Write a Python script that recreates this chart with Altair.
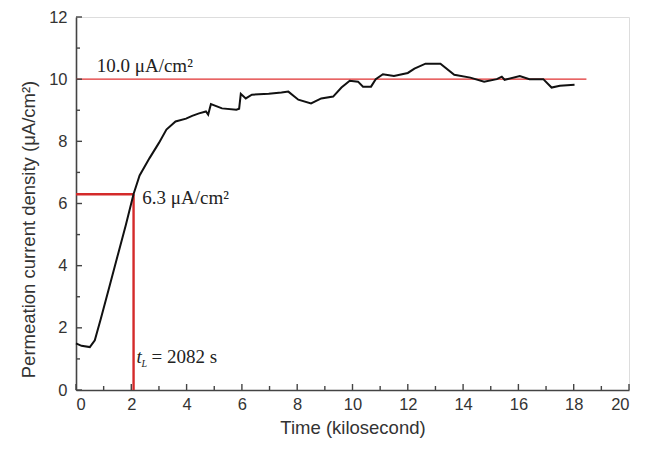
import altair as alt
import pandas as pd

# curve data (time in kiloseconds, current density in uA/cm^2)
time_ks = [0, 0.2, 0.5, 0.68, 0.9, 1.2, 1.5, 1.8, 2.08, 2.3, 2.66, 3.0, 3.27, 3.6, 3.98, 4.2,
           4.45, 4.7, 4.78, 4.88, 5.28, 5.8, 5.9, 5.96, 6.14, 6.36, 6.97, 7.43, 7.68, 8.04, 8.5,
           8.87, 9.3, 9.6, 9.9, 10.2, 10.38, 10.67, 10.84, 11.1, 11.5, 12.0, 12.24, 12.64, 13.18,
           13.68, 14.26, 14.76, 15.22, 15.4, 15.5, 16.05, 16.4, 16.9, 17.2, 17.5, 18.03]
current = [1.5, 1.42, 1.38, 1.6, 2.3, 3.3, 4.3, 5.3, 6.3, 6.9, 7.46, 7.95, 8.38, 8.64, 8.73, 8.82,
           8.9, 8.96, 8.86, 9.2, 9.06, 9.02, 9.05, 9.53, 9.38, 9.5, 9.53, 9.57, 9.6, 9.34, 9.22,
           9.38, 9.44, 9.73, 9.95, 9.92, 9.76, 9.76, 10.0, 10.16, 10.1, 10.2, 10.34, 10.5, 10.5,
           10.14, 10.05, 9.92, 10.0, 10.08, 9.98, 10.1, 10.0, 10.0, 9.73, 9.79, 9.82]

steady_value = 10.0
steady_end = 18.46
lag_time = 2.082
lag_value = 6.3

x_major = [0, 2, 4, 6, 8, 10, 12, 14, 16, 18, 20]
x_minor = [1, 3, 5, 7, 9, 11, 13, 15, 17, 19]
y_major = [0, 2, 4, 6, 8, 10, 12]
y_minor = [1, 3, 5, 7, 9, 11]

W, H = 553, 373
xs = alt.Scale(domain=[0, 20], nice=False, zero=False)
ys = alt.Scale(domain=[0, 12], nice=False, zero=False)

curve_df = pd.DataFrame({"t": time_ks, "j": current})

base = alt.Chart(curve_df).mark_line(color="#111111", strokeWidth=2).encode(
    x=alt.X("t:Q", scale=xs,
            axis=alt.Axis(values=x_major, ticks=False, grid=False, domainColor="#444444",
                          domainWidth=1.6, labelFont="Liberation Sans", labelFontSize=16.5,
                          labelColor="#333333", labelPadding=6,
                          title="Time (kilosecond)", titleFont="Liberation Sans",
                          titleFontSize=18.5, titleFontWeight="normal", titleColor="#333333",
                          titlePadding=6)),
    y=alt.Y("j:Q", scale=ys,
            axis=alt.Axis(values=y_major, ticks=False, grid=False, domainColor="#444444",
                          domainWidth=1.6, labelFont="Liberation Sans", labelFontSize=16.5,
                          labelColor="#333333", labelPadding=9,
                          title="Permeation current density (μA/cm²)",
                          titleFont="Liberation Sans", titleFontSize=18.5,
                          titleFontWeight="normal", titleColor="#333333", titlePadding=10,
                          titleY=212)),
)

# horizontal steady-state line
steady_df = pd.DataFrame({"x0": [0], "x1": [steady_end], "y": [steady_value]})
steady = alt.Chart(steady_df).mark_rule(color="#e03030", strokeWidth=1.3).encode(
    x=alt.X("x0:Q", scale=xs), x2="x1:Q", y=alt.Y("y:Q", scale=ys))

# lag-time construction lines
lagh_df = pd.DataFrame({"x0": [0], "x1": [lag_time], "y": [lag_value]})
lagh = alt.Chart(lagh_df).mark_rule(color="#d42a2a", strokeWidth=2.4).encode(
    x=alt.X("x0:Q", scale=xs), x2="x1:Q", y=alt.Y("y:Q", scale=ys))
lagv_df = pd.DataFrame({"x": [lag_time], "y0": [0], "y1": [lag_value]})
lagv = alt.Chart(lagv_df).mark_rule(color="#d42a2a", strokeWidth=2.4).encode(
    x=alt.X("x:Q", scale=xs), y=alt.Y("y0:Q", scale=ys), y2="y1:Q")

# inward ticks
xmaj = alt.Chart(pd.DataFrame({"v": x_major})).mark_rule(color="#444444", strokeWidth=1.4).encode(
    x=alt.X("v:Q", scale=xs), y=alt.value(H), y2=alt.value(H - 6))
xmin = alt.Chart(pd.DataFrame({"v": x_minor})).mark_rule(color="#444444", strokeWidth=1.4).encode(
    x=alt.X("v:Q", scale=xs), y=alt.value(H), y2=alt.value(H - 4))
ymaj = alt.Chart(pd.DataFrame({"v": y_major})).mark_rule(color="#444444", strokeWidth=1.4).encode(
    y=alt.Y("v:Q", scale=ys), x=alt.value(0), x2=alt.value(6))
ymin = alt.Chart(pd.DataFrame({"v": y_minor})).mark_rule(color="#444444", strokeWidth=1.4).encode(
    y=alt.Y("v:Q", scale=ys), x=alt.value(0), x2=alt.value(4))

# annotations
serif = "Liberation Serif"
ann_df = pd.DataFrame({"x": [0.75, 2.4], "y": [10.24, 6.0],
                       "label": ["10.0 μA/cm²", "6.3 μA/cm²"]})
ann = alt.Chart(ann_df).mark_text(font=serif, fontSize=19, align="left",
                                  baseline="alphabetic", color="#222222").encode(
    x=alt.X("x:Q", scale=xs), y=alt.Y("y:Q", scale=ys), text="label:N")

tl_df = pd.DataFrame({"x": [2.19], "y": [0.86]})
t_main = alt.Chart(tl_df).mark_text(font=serif, fontSize=19, fontStyle="italic", align="left",
                                    baseline="alphabetic", color="#222222", text="t").encode(
    x=alt.X("x:Q", scale=xs), y=alt.Y("y:Q", scale=ys))
t_sub = alt.Chart(tl_df).mark_text(font=serif, fontSize=10, fontStyle="italic", align="left",
                                   baseline="alphabetic", color="#222222", text="L",
                                   dx=5, dy=4).encode(
    x=alt.X("x:Q", scale=xs), y=alt.Y("y:Q", scale=ys))
t_rest = alt.Chart(tl_df).mark_text(font=serif, fontSize=19, align="left",
                                    baseline="alphabetic", color="#222222",
                                    text="= 2082 s", dx=15).encode(
    x=alt.X("x:Q", scale=xs), y=alt.Y("y:Q", scale=ys))

chart = alt.layer(steady, lagh, lagv, base, xmaj, xmin, ymaj, ymin, ann, t_main, t_sub, t_rest).properties(
    width=W, height=H,
    autosize=alt.AutoSizeParams(type="none"),
    padding={"left": 68, "top": 9, "right": 8, "bottom": 48},
).configure_view(stroke="#555555", strokeWidth=1.6).configure(background="white")

chart.save("out.html", embed_options={"renderer": "svg", "actions": False})
